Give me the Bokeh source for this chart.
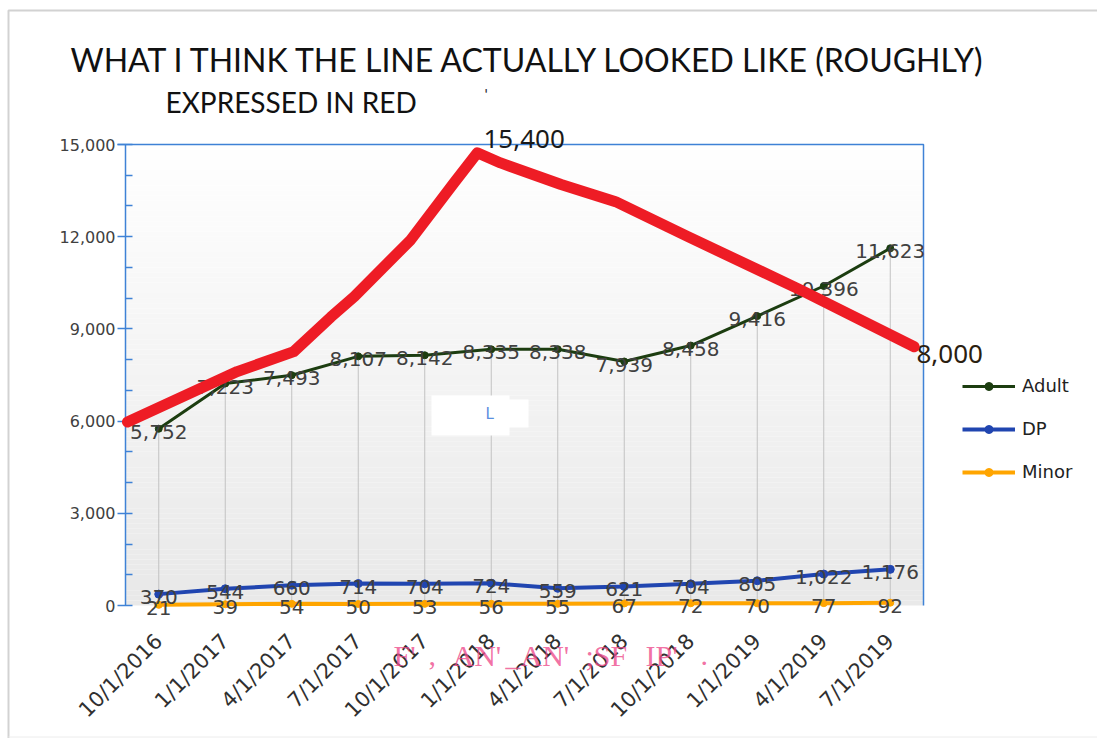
import numpy as np
from math import pi
from bokeh.plotting import figure
from bokeh.models import (ColumnDataSource, LabelSet, Label, Legend, LegendItem,
                          FixedTicker, Range1d, NumeralTickFormatter)
from bokeh.core.properties import value
from bokeh.embed import file_html
from bokeh.resources import INLINE

# ---------------- data ----------------
dates = ["10/1/2016", "1/1/2017", "4/1/2017", "7/1/2017", "10/1/2017", "1/1/2018",
         "4/1/2018", "7/1/2018", "10/1/2018", "1/1/2019", "4/1/2019", "7/1/2019"]
adult = [5752, 7223, 7493, 8107, 8142, 8335, 8338, 7939, 8458, 9416, 10396, 11623]
dp = [370, 544, 660, 714, 704, 724, 559, 621, 704, 805, 1022, 1176]
minor = [21, 39, 54, 50, 53, 56, 55, 67, 72, 70, 77, 92]
# hand-drawn red line (x in category index units)
red_x = [-0.47, 1.18, 2.03, 2.59, 2.94, 3.79, 4.44, 4.79, 5.14, 6.05, 6.87, 7.95, 9.65, 11.36]
red_y = [5970, 7610, 8260, 9390, 10050, 11900, 13750, 14730, 14400, 13700, 13140, 12010, 10270, 8420]
red_labels = ["15,400", "8,000"]
y_ticks = [0, 3000, 6000, 9000, 12000, 15000]
series_names = ["Adult", "DP", "Minor"]

title = "WHAT I THINK THE LINE ACTUALLY LOOKED LIKE (ROUGHLY)"
subtitle = "EXPRESSED IN RED"
# faint pink remnants of erased text (chunk, left edge in page px)
pink_chunks = [("F'", 393), (",", 428), ("AN'", 452), ("_AN'", 505), (";SF", 585),
               ("IP'", 645), (".", 700)]

# ---------------- styling ----------------
ADULT_C = "#1c3d10"
DP_C = "#2045b0"
MINOR_C = "#ffa500"
RED_C = "#ee1c25"
AXIS_C = "#3f82d6"
TXT_C = "#404040"

W, H = 1097, 738
PA_L, PA_T, PA_W, PA_H = 125, 144, 798, 461   # plot area in page px
XMIN, XMAX, YMAX = -0.5, 11.5, 15000


def dx(px):  # page pixel -> data x
    return XMIN + (px - PA_L) * (XMAX - XMIN) / PA_W


def dy(py):  # page pixel -> data y
    return (PA_T + PA_H - py) * YMAX / PA_H


p = figure(width=W, height=H, x_range=Range1d(dx(0), dx(W)), y_range=Range1d(dy(H), dy(0)),
           output_backend="svg", toolbar_location=None, min_border=0)
p.background_fill_color = "white"
p.border_fill_color = "white"
p.outline_line_color = None
p.xgrid.visible = False
p.ygrid.visible = False

# chart-area frame (light gray, as in the screenshot)
p.line([dx(8), dx(8), dx(W)], [dy(H), dy(10), dy(10)], line_color="#d2d2d2", line_width=2)
p.line([dx(8), dx(W)], [dy(736.5), dy(736.5)], line_color="#ececec", line_width=1)

# gradient background of the plot area
nb = 90
edges = np.linspace(0, YMAX, nb + 1)
shade = np.linspace(233, 255, nb)
cols = ["#%02x%02x%02x" % (int(s), int(s), int(s)) for s in shade]
p.quad(left=XMIN, right=XMAX, bottom=edges[:-1], top=edges[1:], fill_color=cols,
       line_color=None)

# plot-area border (top / right)
p.line([dx(PA_L - 8), XMAX, XMAX], [YMAX, YMAX, 0], line_color=AXIS_C, line_width=1.5)

x = list(range(len(dates)))
src = ColumnDataSource(dict(
    x=x, adult=adult, dp=dp, minor=minor,
    adult_l=[f"{v:,}" for v in adult],
    dp_l=[f"{v:,}" for v in dp],
    minor_l=[f"{v:,}" for v in minor],
))

# drop lines
p.segment(x0="x", y0=0, x1="x", y1="adult", source=src, line_color="#c2c2c2", line_width=1)

# erased artifact (white blob)
p.rect(x=[dx(470), dx(505)], y=[dy(415), dy(413)], width=[dx(510) - dx(432), dx(528) - dx(482)],
       height=[dy(395) - dy(435), dy(400) - dy(428)], fill_color="white", line_color=None)

renderers = {}
for key, col, lw, ms in [("minor", MINOR_C, 4, 7), ("dp", DP_C, 4, 8), ("adult", ADULT_C, 3, 7)]:
    l = p.line("x", key, source=src, line_color=col, line_width=lw)
    s = p.scatter("x", key, source=src, size=ms, color=col)
    renderers[key] = [l, s]

for key in ["adult", "dp", "minor"]:
    p.add_layout(LabelSet(x="x", y=key, text=key + "_l", source=src,
                          text_align="center", text_baseline="middle", y_offset=-3,
                          text_font=value("DejaVu Sans"), text_font_size=value("20px"),
                          text_color=TXT_C))

# red hand-drawn line
red = p.line(red_x, red_y, line_color=RED_C, line_width=11, line_join="round",
             line_cap="round")
red.level = "overlay"

p.add_layout(Label(x=dx(483), y=dy(138), text=red_labels[0], text_baseline="middle",
                   text_font="Noto Sans", text_font_size="26px", text_color="#1a1a1a"))
p.add_layout(Label(x=dx(916), y=dy(353), text=red_labels[1], text_baseline="middle",
                   text_font="Noto Sans", text_font_size="26px", text_color="#2a2010"))

# titles
p.add_layout(Label(x=dx(70), y=dy(59), text=title, text_baseline="middle",
                   text_font="Lato", text_font_size="32px", text_color="#111111"))
p.add_layout(Label(x=dx(165), y=dy(101), text=subtitle, text_baseline="middle",
                   text_font="Lato", text_font_size="28px", text_color="#111111"))
p.add_layout(Label(x=dx(484), y=dy(93), text="'", text_baseline="middle",
                   text_font="Lato", text_font_size="16px", text_color="#333333"))

p.add_layout(Label(x=dx(485), y=dy(413), text="L", text_baseline="middle",
                   text_font="DejaVu Sans", text_font_size="15px", text_color="#5a8fe0"))
for chunk, cx in pink_chunks:
    p.add_layout(Label(x=dx(cx), y=dy(655), text=chunk, text_baseline="middle",
                       text_font="Liberation Serif", text_font_size="30px",
                       text_color="#ee4d8c", text_alpha=0.8))

# axes (placed at the plot-area edges)
yax = p.yaxis[0]
yax.fixed_location = XMIN
yax.bounds = (0, YMAX)
yax.ticker = FixedTicker(ticks=y_ticks,
                         minor_ticks=[v for v in range(0, YMAX + 1, 1000) if v % 3000])
yax.formatter = NumeralTickFormatter(format="0,0")
yax.axis_line_color = AXIS_C
yax.axis_line_width = 1.5
yax.major_tick_line_color = AXIS_C
yax.major_tick_line_width = 1.5
yax.major_tick_in = 7
yax.major_tick_out = 8
yax.minor_tick_line_color = AXIS_C
yax.minor_tick_line_width = 1.5
yax.minor_tick_in = 7
yax.minor_tick_out = 0
yax.major_label_standoff = 2
yax.major_label_text_font = "DejaVu Sans"
yax.major_label_text_font_size = "16px"
yax.major_label_text_color = TXT_C

xax = p.xaxis[0]
xax.fixed_location = 0
xax.bounds = (XMIN, XMAX)
xax.ticker = FixedTicker(ticks=x)
xax.major_label_overrides = {i: d for i, d in enumerate(dates)}
xax.major_label_orientation = pi / 4
xax.axis_line_color = None
xax.major_tick_line_color = None
xax.minor_tick_line_color = None
xax.major_label_standoff = 26
xax.major_label_text_font = "DejaVu Sans"
xax.major_label_text_font_size = "21px"
xax.major_label_text_color = "#303030"

# legend
legend = Legend(items=[LegendItem(label=series_names[0], renderers=renderers["adult"]),
                       LegendItem(label=series_names[1], renderers=renderers["dp"]),
                       LegendItem(label=series_names[2], renderers=renderers["minor"])],
                location=(962, H - 482),
                glyph_width=53, glyph_height=20, spacing=22, label_standoff=7,
                padding=0, margin=0, border_line_color=None, background_fill_alpha=0,
                label_text_font="DejaVu Sans", label_text_font_size="18px",
                label_text_color="#222222")
p.add_layout(legend)

open("out.html", "w").write(file_html(p, INLINE))
